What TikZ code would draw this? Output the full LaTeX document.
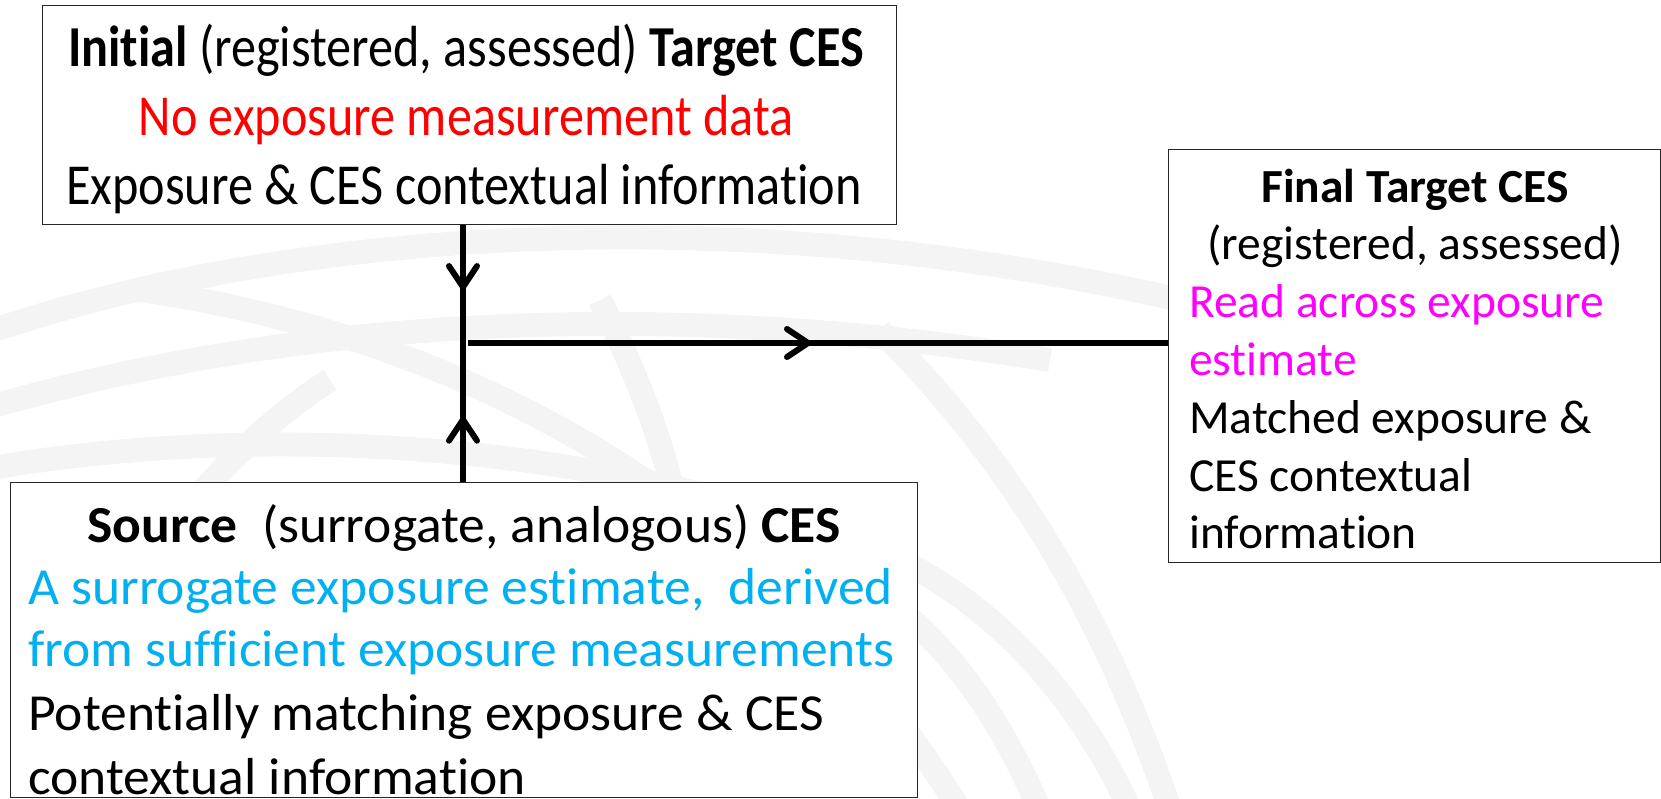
\documentclass[tikz,border=0pt]{standalone}
\usepackage{fontspec}
\setmainfont{Carlito}[Ligatures=NoCommon]
\newfontfamily\topfont{Carlito}[FakeStretch=0.866,Ligatures=NoCommon]
\newfontfamily\srcfont{Carlito}[FakeStretch=1.03,Ligatures=NoCommon]
\usetikzlibrary{arrows.meta,decorations.markings}
\definecolor{cesred}{RGB}{255,0,0}
\definecolor{cesmag}{RGB}{255,0,255}
\definecolor{cesblue}{RGB}{0,176,240}
\definecolor{wmark}{RGB}{244,244,244}
\begin{document}
\begin{tikzpicture}[x=1pt,y=-1pt,
  box/.style={draw=black!85, line width=1.4pt, fill=white, inner sep=0pt, anchor=north west},
  txt/.style={inner sep=0pt, anchor=base},
  ltxt/.style={inner sep=0pt, anchor=base west},
  wm/.style={draw=wmark, line width=24pt},
  conn/.style={line width=5.2pt, draw=black},
  barb/.style={decoration={markings, mark=at position #1 with {\arrow{Straight Barb[length=21pt,width=28pt,line width=6pt,round]}}}, postaction={decorate}}
]
\useasboundingbox (0,0) rectangle (1661,799);
% faint watermark globe
\begin{scope}
\clip (0,0) rectangle (1661,799);
\draw[wm] (-20,335) .. controls (250,240) and (700,190) .. (1180,300);
\draw[wm] (-20,410) .. controls (250,330) and (620,290) .. (1050,360);
\draw[wm] (-20,470) .. controls (260,420) and (620,440) .. (900,560) .. controls (1000,610) and (1080,700) .. (1130,810);
\draw[wm] (140,290) .. controls (420,330) and (750,470) .. (960,810);
\draw[wm] (330,380) .. controls (250,430) and (170,520) .. (120,600);
\draw[wm] (600,300) .. controls (640,380) and (660,440) .. (670,480);
\draw[wm] (880,330) .. controls (1000,450) and (1100,600) .. (1170,810);
\draw[wm] (900,610) .. controls (960,660) and (1000,720) .. (1040,810);
\end{scope}

% boxes
\node[box, minimum width=854pt, minimum height=219pt] (top) at (42,5) {};
\node[box, minimum width=492pt, minimum height=413pt] (final) at (1168,149) {};
\node[box, minimum width=907pt, minimum height=315pt] (source) at (10,482) {};

% top box text
\node[txt] (t1) at (466,67) {\topfont\fontsize{58}{60}\selectfont\textbf{Initial} (registered, assessed) \textbf{Target CES}};
\node[txt, text=cesred] (t2) at (466,136) {\topfont\fontsize{58}{60}\selectfont No exposure measurement data};
\node[txt] (t3) at (464,205) {\topfont\fontsize{58}{60}\selectfont Exposure \& CES contextual information};

% final box text
\node[txt] (f1) at (1415,203) {\fontsize{47.5}{57}\selectfont\textbf{Final Target CES}};
\node[txt] (f2) at (1415,260) {\fontsize{47.5}{57}\selectfont (registered, assessed)};
\node[ltxt, text=cesmag] (f3) at (1189,317) {\fontsize{47.5}{57}\selectfont Read across exposure};
\node[ltxt, text=cesmag] (f4) at (1189,375) {\fontsize{47.5}{57}\selectfont estimate};
\node[ltxt] (f5) at (1189,433) {\fontsize{47.5}{57}\selectfont Matched exposure \&};
\node[ltxt] (f6) at (1189,491) {\fontsize{47.5}{57}\selectfont CES contextual};
\node[ltxt] (f7) at (1189,548) {\fontsize{47.5}{57}\selectfont information};

% source box text
\node[txt] (s1) at (464,542) {\srcfont\fontsize{52}{57}\selectfont\textbf{Source}\ \ (surrogate, analogous) \textbf{CES}};
\node[ltxt, text=cesblue] (s2) at (28,604) {\srcfont\fontsize{52}{57}\selectfont A surrogate exposure estimate,\ \ derived};
\node[ltxt, text=cesblue] (s3) at (28,666) {\srcfont\fontsize{52}{57}\selectfont from sufficient exposure measurements};
\node[ltxt] (s4) at (28,730) {\srcfont\fontsize{52}{57}\selectfont Potentially matching exposure \& CES};
\node[ltxt] (s5) at (28,794) {\srcfont\fontsize{52}{57}\selectfont contextual information};

% connectors
\coordinate (j) at (463,343);
\coordinate (h) at (468,343);
\draw[conn, barb=0.55] (top.south -| j) -- (j);
\draw[conn, barb=0.47] (source.north -| j) -- (j);
\draw[conn, barb=0.49] (h) -- (h -| final.west);
\end{tikzpicture}
\end{document}
